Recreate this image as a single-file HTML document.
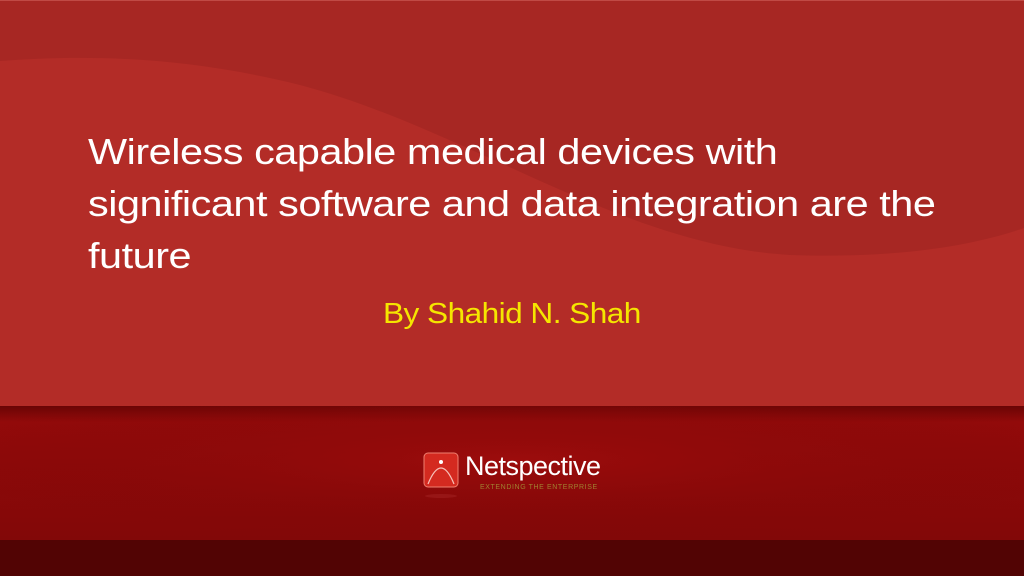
<!DOCTYPE html>
<html><head><style>
html,body{margin:0;padding:0;}
body{width:1024px;height:576px;position:relative;overflow:hidden;background:#b32c27;font-family:"Liberation Sans",sans-serif;}
svg{position:absolute;left:0;top:0;}
.t{position:absolute;left:88px;color:#fff;font-size:36px;white-space:nowrap;letter-spacing:-0.4px;transform:scaleX(1.15);transform-origin:0 0;}
</style></head><body>
<svg width="1024" height="576">
<defs>
<linearGradient id="band" x1="0" y1="0" x2="0" y2="1">
<stop offset="0" stop-color="#6a0505"/><stop offset="0.12" stop-color="#940a0a"/><stop offset="1" stop-color="#820808"/>
</linearGradient>
<radialGradient id="glow" cx="0.5" cy="0.4" r="0.6">
<stop offset="0" stop-color="#9c0c0c"/><stop offset="1" stop-color="#7a0606" stop-opacity="0"/>
</radialGradient>
</defs>
<rect x="0" y="0" width="1024" height="406" fill="#b32c27"/>
<path d="M0,0 L1024,0 L1024,228 C960,250 880,258 790,255 C620,245 470,130 300,85 C180,55 80,55 0,61 Z" fill="#a72723"/>
<rect x="0" y="0" width="1024" height="1" fill="#c04a45"/>
<rect x="0" y="406" width="1024" height="134" fill="url(#band)"/>
<rect x="0" y="406" width="1024" height="134" fill="url(#glow)"/>
<rect x="0" y="540" width="1024" height="36" fill="#520404"/>
<rect x="424" y="453" width="34" height="34" rx="4" fill="#d42a20" stroke="#f08070" stroke-width="1"/>
<path d="M428,484 Q441,452 454,484" fill="none" stroke="#f7c0b8" stroke-width="1.2"/>
<circle cx="441" cy="462" r="2" fill="#fff"/>
<ellipse cx="441" cy="496" rx="16" ry="2" fill="#a02020" opacity="0.6"/>
</svg>
<div class="t" style="top:131px">Wireless capable medical devices with</div>
<div class="t" style="top:183px">significant software and data integration are the</div>
<div class="t" style="top:235px">future</div>
<div style="position:absolute;left:383px;top:298px;color:#f5e600;font-size:29px;letter-spacing:-0.5px;white-space:nowrap;transform:scaleX(1.09);transform-origin:0 0;">By Shahid N. Shah</div>
<div style="position:absolute;left:465px;top:451px;color:#fff;font-size:27px;letter-spacing:-0.5px;">Netspective</div>
<div style="position:absolute;left:480px;top:484px;color:#a08030;font-size:7px;letter-spacing:0.6px;">EXTENDING THE ENTERPRISE</div>
</body></html>
